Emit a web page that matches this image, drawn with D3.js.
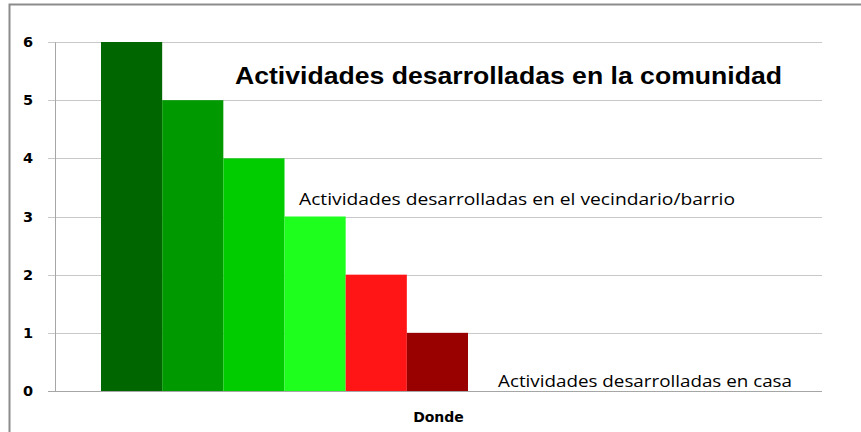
<!DOCTYPE html>
<html lang="es">
<head>
<meta charset="UTF-8">
<title>Actividades desarrolladas</title>
<script src="https://d3js.org/d3.v7.min.js"></script>
<style>
    body { margin: 0; background: #fff; }
    .tick text { font-family: "DejaVu Sans", Verdana, sans-serif; font-weight: bold; font-size: 14.5px; fill: #000; }
</style>
</head>
<body>
<script>
    // data
    var categories = ["Donde"];
    var seriesNames = ["s1", "s2", "s3", "s4", "s5", "s6"];
    var seriesValues = [6, 5, 4, 3, 2, 1];
    var seriesColors = ["#006600", "#009900", "#00cc00", "#1eff1e", "#ff1515", "#990000"];
    var yTicks = [0, 1, 2, 3, 4, 5, 6];

    var width = 861, height = 432;
    var margin = {top: 42, right: 39, bottom: 41, left: 55};

    var svg = d3.select("body").append("svg")
        .attr("width", width)
        .attr("height", height);

    // outer chart border
    svg.append("rect")
        .attr("x", 9.5).attr("y", 4.5)
        .attr("width", width).attr("height", height)
        .attr("fill", "none")
        .attr("stroke", "#8c8c8c")
        .attr("stroke-width", 2);

    var y = d3.scaleLinear()
        .domain([0, 6])
        .range([height - margin.bottom, margin.top]);

    var x = d3.scaleBand()
        .domain(categories)
        .range([margin.left, width - margin.right]);

    // the bars sit left of the category centre in the original
    var xs = d3.scaleBand()
        .domain(seriesNames)
        .range([46, 413]);

    // gridlines
    svg.append("g")
        .selectAll("line")
        .data(yTicks)
        .enter().append("line")
        .attr("x1", margin.left - 7)
        .attr("x2", width - margin.right)
        .attr("y1", function(d) { return Math.round(y(d)) + 0.5; })
        .attr("y2", function(d) { return Math.round(y(d)) + 0.5; })
        .attr("stroke", function(d) { return d === 0 ? "#a6a6a6" : "#c8c8c8"; })
        .attr("stroke-width", 1);

    // y axis
    var yAxis = svg.append("g")
        .attr("transform", "translate(" + margin.left + ",0)")
        .call(d3.axisLeft(y).tickValues(yTicks).tickSize(0).tickPadding(22).tickFormat(d3.format("d")));
    yAxis.select(".domain").attr("stroke", "#a6a6a6");

    // bars
    svg.append("g")
        .selectAll("rect")
        .data(seriesValues)
        .enter().append("rect")
        .attr("x", function(d, i) { return x("Donde") + xs(seriesNames[i]); })
        .attr("y", function(d) { return y(d); })
        .attr("width", xs.bandwidth())
        .attr("height", function(d) { return y(0) - y(d); })
        .attr("fill", function(d, i) { return seriesColors[i]; });

    // x axis label
    svg.append("text")
        .attr("x", x("Donde") + x.bandwidth() / 2)
        .attr("y", 422)
        .attr("text-anchor", "middle")
        .style("font-family", "'DejaVu Sans', Verdana, sans-serif")
        .style("font-weight", "bold")
        .style("font-size", "14px")
        .text("Donde");

    // title
    svg.append("text")
        .attr("x", 235)
        .attr("y", 84)
        .attr("textLength", 547)
        .attr("lengthAdjust", "spacingAndGlyphs")
        .style("font-family", "'Liberation Sans', Arial, sans-serif")
        .style("font-weight", "bold")
        .style("font-size", "24px")
        .text("Actividades desarrolladas en la comunidad");

    // annotations
    svg.append("text")
        .attr("x", 299)
        .attr("y", 205)
        .attr("textLength", 436)
        .attr("lengthAdjust", "spacingAndGlyphs")
        .style("font-family", "'Open Sans', sans-serif")
        .style("font-size", "16px")
        .text("Actividades desarrolladas en el vecindario/barrio");

    svg.append("text")
        .attr("x", 498)
        .attr("y", 387)
        .attr("textLength", 294)
        .attr("lengthAdjust", "spacingAndGlyphs")
        .style("font-family", "'Open Sans', sans-serif")
        .style("font-size", "16px")
        .text("Actividades desarrolladas en casa");
</script>
</body>
</html>
